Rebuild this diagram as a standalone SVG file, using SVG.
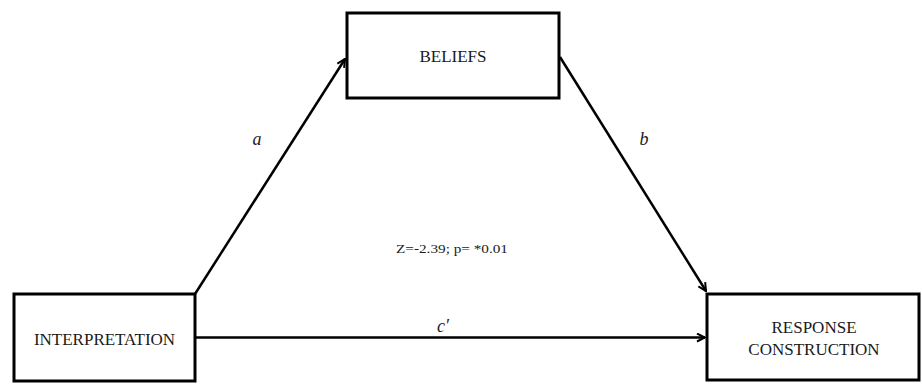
<svg xmlns="http://www.w3.org/2000/svg" width="922" height="384" viewBox="0 0 922 384">
<style>
.box{fill:#fff;stroke:#000;stroke-width:3}
.lbl{font-family:"Liberation Serif",serif;font-size:17px;fill:#1a1a1a;text-anchor:middle}
.it{font-family:"Liberation Serif",serif;font-style:italic;font-size:18px;fill:#1a1a1a;text-anchor:middle}
.sm{font-family:"Liberation Serif",serif;font-size:13.5px;fill:#1a1a1a}
.edge{fill:none;stroke:#000;stroke-width:2.5;marker-end:url(#arr)}
</style>
<defs>
<marker id="arr" viewBox="0 0 10 10" refX="9" refY="5" markerWidth="4" markerHeight="4" orient="auto" markerUnits="strokeWidth">
<path d="M1,1 L9,5 L1,9" fill="none" stroke="#000" stroke-width="2"/>
</marker>
</defs>
<g id="connectors">
<line class="edge" x1="195" y1="294" x2="345" y2="59"/>
<line class="edge" x1="560" y1="57" x2="706" y2="291"/>
<line class="edge" x1="195" y1="337.5" x2="705" y2="337.5"/>
<text class="it" x="257" y="145">a</text>
<text class="it" x="644" y="145">b</text>
<text class="it" x="443" y="332">c′</text>
<text class="sm" x="396" y="253" textLength="112" lengthAdjust="spacingAndGlyphs">Z=-2.39; p= *0.01</text>
</g>
<g id="beliefs">
<rect class="box" x="347" y="13" width="212" height="85"/>
<text class="lbl" x="453" y="62">BELIEFS</text>
</g>
<g id="interpretation">
<rect class="box" x="14" y="294" width="181" height="87"/>
<text class="lbl" x="104.5" y="345">INTERPRETATION</text>
</g>
<g id="response">
<rect class="box" x="707" y="294" width="212" height="86"/>
<text class="lbl" x="814" y="333">RESPONSE</text>
<text class="lbl" x="814" y="355">CONSTRUCTION</text>
</g>
</svg>
